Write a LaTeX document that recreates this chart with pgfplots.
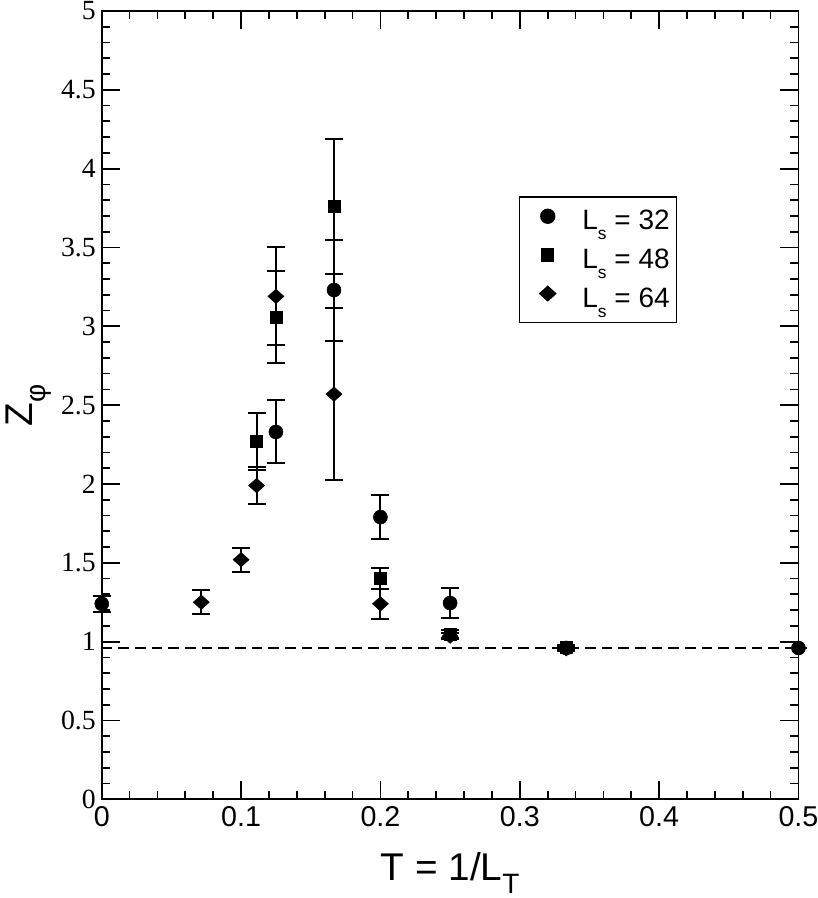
\documentclass[border=0pt]{standalone}
\usepackage{fontspec}
\setmainfont{Liberation Serif}
\setsansfont{Liberation Sans}
\usepackage{pgfplots}
\pgfplotsset{compat=1.18}
\usepackage{pgfplotstable}

\pgfplotstableread{
x y e
0       1.24  0.05
0.125   2.33  0.20
0.16667 3.23  0.32
0.2     1.79  0.14
0.25    1.245 0.093
0.33333 0.96  0.012
0.5     0.96  0.0
}\dataA
\pgfplotstableread{
x y e
0.11111 2.27  0.18
0.125   3.06  0.29
0.16667 3.76  0.425
0.2     1.40  0.065
0.25    1.05  0.025
0.33333 0.965 0.012
}\dataB
\pgfplotstableread{
x y e
0.07143 1.25  0.075
0.1     1.52  0.077
0.11111 1.99  0.12
0.125   3.19  0.31
0.16667 2.57  0.545
0.2     1.24  0.095
0.25    1.035 0.02
0.33333 0.955 0.012
}\dataC

\newcommand\lsub[1]{\raisebox{-7.5pt}{\fontsize{13}{13}\selectfont #1}}
\newcommand\bsub[1]{\raisebox{-10pt}{\fontsize{21}{21}\selectfont #1}}
\newcommand\xt[1]{{\sffamily\fontsize{21.5}{23}\selectfont #1}}
\newcommand\yt[1]{{\rmfamily\fontsize{20.8}{23}\selectfont #1}}

\begin{document}
\begin{tikzpicture}
\begin{axis}[
  name=ax,
  scale only axis,
  width=522.5pt, height=591.2pt,
  xmin=0, xmax=0.5, ymin=0, ymax=5,
  clip=false,
  xtick={0,0.1,0.2,0.3,0.4,0.5},
  xticklabels={\xt{0},\xt{0.1},\xt{0.2},\xt{0.3},\xt{0.4},\xt{0.5}},
  ytick={0,0.5,1,1.5,2,2.5,3,3.5,4,4.5,5},
  yticklabels={\yt{0},\yt{0.5},\yt{1},\yt{1.5},\yt{2},\yt{2.5},\yt{3},\yt{3.5},\yt{4},\yt{4.5},\yt{5}},
  minor x tick num=4, minor y tick num=4,
  tick align=inside,
  major tick length=13.5pt, minor tick length=6.25pt,
  every tick/.style={line width=1.3pt, black},
  axis line style={line width=1.3pt},
  /pgf/number format/assume math mode=true,
  xticklabel style={yshift=-2pt},
  yticklabel style={xshift=-1pt},
  xlabel={\sffamily\fontsize{29}{30}\selectfont T = 1/L\bsub{T}},
  xlabel style={at={(axis description cs:0.5,-0.1028)}, anchor=base},
  ylabel={\sffamily\fontsize{29}{30}\selectfont Z\bsub{φ}},
  ylabel style={at={(axis description cs:-0.1,0.5)}, anchor=base},
  legend style={at={(0.599,0.765)}, anchor=north west, draw=black, line width=1pt,
    inner xsep=5pt, inner ysep=3.5pt, column sep=13pt,
    font=\sffamily\fontsize{21}{24}\selectfont,
    nodes={inner sep=0pt}},
  legend cell align=left,
  legend image code/.code={\path[draw=none,fill=none] (-16pt,-14.5pt) rectangle (13pt,14.5pt); \draw[#1] plot coordinates {(0pt,0.35em)};},
  error bars/error bar style={line width=1.5pt, black},
  error bars/error mark options={rotate=90, mark size=6.75pt, line width=1.5pt, black},
]
\addplot[black, dashed, line width=1.6pt, dash pattern=on 8pt off 4.5pt, forget plot] coordinates {(0,0.96) (0.5,0.96)};
\addplot[only marks, black, mark=*, mark size=5.25pt,
  error bars/.cd, y dir=both, y explicit]
  table[x=x, y=y, y error=e] {\dataA};
\addlegendentry{L\lsub{s} = 32}
\addplot[only marks, black, mark=square*, mark size=4.5pt,
  error bars/.cd, y dir=both, y explicit]
  table[x=x, y=y, y error=e] {\dataB};
\addlegendentry{L\lsub{s} = 48}
\addplot[only marks, black, mark=diamond*, mark size=5.4pt, mark options={xscale=1.48},
  error bars/.cd, y dir=both, y explicit]
  table[x=x, y=y, y error=e] {\dataC};
\addlegendentry{L\lsub{s} = 64}
\end{axis}
\pgfresetboundingbox
\path ([shift={(-76.3pt,-74pt)}]ax.south west) rectangle ([shift={(14pt,8.25pt)}]ax.north east);
\end{tikzpicture}
\end{document}
